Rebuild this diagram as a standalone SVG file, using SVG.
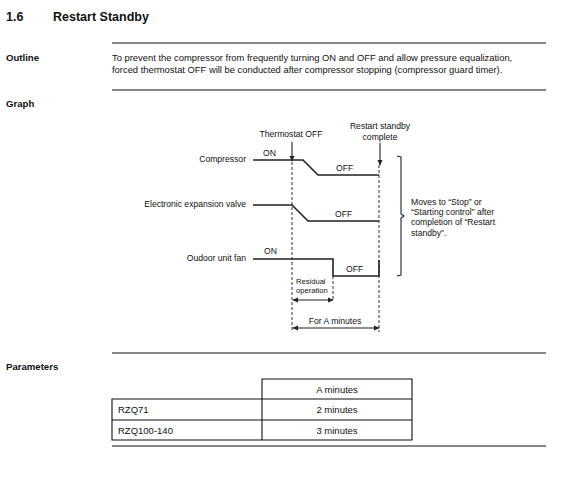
<svg xmlns="http://www.w3.org/2000/svg" width="573" height="500" viewBox="0 0 573 500">
<defs>
<marker id="ah" viewBox="0 0 8 8" refX="7" refY="4" markerWidth="6" markerHeight="6" orient="auto-start-reverse" markerUnits="userSpaceOnUse">
<path d="M0,0.5 L8,4 L0,7.5 Z" fill="#222"/>
</marker>
<style>
text{font-family:"Liberation Sans",Arial,sans-serif;fill:#111}
.h1{font-size:12.5px;font-weight:bold}
.sec{font-size:9.6px;font-weight:bold}
.body{font-size:9.4px}
.lbl{font-size:8.6px}
.tbl{font-size:9.5px}
.sm{font-size:7.6px}
.rule{stroke:#111;stroke-width:1.2;fill:none}
.sig{stroke:#222;stroke-width:1.6;fill:none}
.dash{stroke:#333;stroke-width:1;stroke-dasharray:3,2;fill:none}
.arr{stroke:#222;stroke-width:1.1;fill:none}
.tb{stroke:#111;stroke-width:1.1;fill:none}
</style>
</defs>
<rect width="573" height="500" fill="#fff"/>

<g id="title">
<text class="h1" x="6" y="21">1.6</text>
<text class="h1" x="53" y="21">Restart Standby</text>
</g>

<g id="rules">
<line class="rule" x1="112" y1="43" x2="546" y2="43"/>
<line class="rule" x1="112" y1="90" x2="546" y2="90"/>
<line class="rule" x1="112" y1="353" x2="546" y2="353"/>
<line class="rule" x1="112" y1="446" x2="546" y2="446"/>
</g>

<g id="outline">
<text class="sec" x="6" y="61">Outline</text>
<text class="body" x="112" y="61">To prevent the compressor from frequently turning ON and OFF and allow pressure equalization,</text>
<text class="body" x="112" y="73">forced thermostat OFF will be conducted after compressor stopping (compressor guard timer).</text>
</g>

<g id="graph-label">
<text class="sec" x="6" y="107">Graph</text>
</g>

<g id="connectors">
<line class="dash" x1="292" y1="162" x2="292" y2="332"/>
<line class="dash" x1="379" y1="165" x2="379" y2="332"/>
<line class="dash" x1="333" y1="276" x2="333" y2="300"/>
<line class="arr" x1="292" y1="142" x2="292" y2="161" marker-end="url(#ah)"/>
<line class="arr" x1="380" y1="143" x2="380" y2="165" marker-end="url(#ah)"/>
<line class="arr" x1="293" y1="300" x2="333" y2="300" marker-start="url(#ah)" marker-end="url(#ah)"/>
<line class="arr" x1="293" y1="328" x2="379" y2="328" marker-start="url(#ah)" marker-end="url(#ah)"/>
</g>

<g id="thermostat-off">
<text class="lbl" x="291" y="137" text-anchor="middle">Thermostat OFF</text>
</g>
<g id="restart-complete">
<text class="lbl" x="380" y="129" text-anchor="middle">Restart standby</text>
<text class="lbl" x="380" y="140" text-anchor="middle">complete</text>
</g>

<g id="compressor">
<text class="lbl" x="246" y="162" text-anchor="end">Compressor</text>
<polyline class="sig" points="253,160 303,160 318,175 379,175"/>
<text class="lbl" x="263" y="156">ON</text>
<text class="lbl" x="336" y="171">OFF</text>
</g>

<g id="eev">
<text class="lbl" x="246" y="207" text-anchor="end">Electronic expansion valve</text>
<polyline class="sig" points="253,205 292,205 308,221 379,221"/>
<text class="lbl" x="335" y="217">OFF</text>
</g>

<g id="fan">
<text class="lbl" x="246" y="261" text-anchor="end">Oudoor unit fan</text>
<polyline class="sig" points="253,259 333,259 333,276 379,276 379,260"/>
<text class="lbl" x="264" y="254">ON</text>
<text class="lbl" x="346" y="272">OFF</text>
</g>

<g id="residual">
<text class="sm" x="296" y="284">Residual</text>
<text class="sm" x="296" y="293">operation</text>
</g>

<g id="for-a-minutes">
<text class="lbl" x="335" y="324" text-anchor="middle" font-size="9">For A minutes</text>
</g>

<g id="brace">
<path class="arr" d="M397,156 L401,157 L401,214 L404,216 L401,218 L401,275 L397,276" stroke-width="1.3"/>
<text class="lbl" x="411" y="205">Moves to “Stop” or</text>
<text class="lbl" x="411" y="215">“Starting control” after</text>
<text class="lbl" x="411" y="225">completion of “Restart</text>
<text class="lbl" x="411" y="236">standby”.</text>
</g>

<g id="parameters">
<text class="sec" x="6" y="370">Parameters</text>
<polyline class="tb" points="262,399 262,379 412,379 412,440 112,440 112,399 412,399"/>
<line class="tb" x1="112" y1="420" x2="412" y2="420"/>
<line class="tb" x1="262" y1="399" x2="262" y2="440"/>
<text class="tbl" x="337" y="393" text-anchor="middle">A minutes</text>
<text class="tbl" x="118" y="413">RZQ71</text>
<text class="tbl" x="337" y="413" text-anchor="middle">2 minutes</text>
<text class="tbl" x="118" y="434">RZQ100-140</text>
<text class="tbl" x="337" y="434" text-anchor="middle">3 minutes</text>
</g>
</svg>
